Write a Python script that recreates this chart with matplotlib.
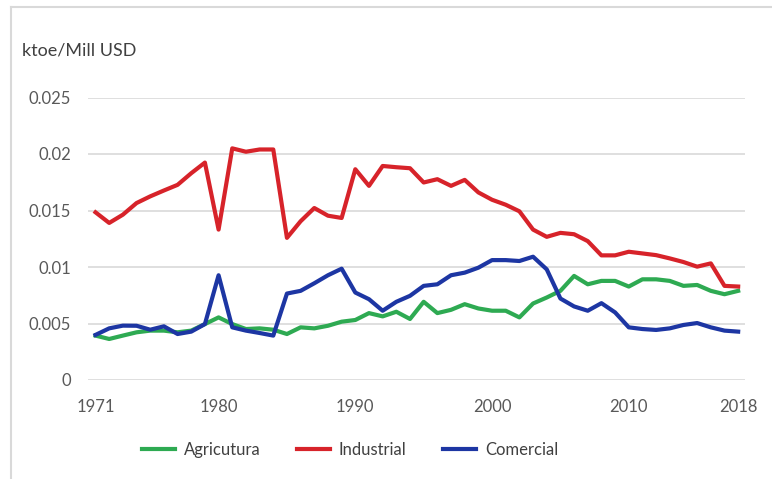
import matplotlib
matplotlib.use("Agg")
import matplotlib.pyplot as plt
from matplotlib.lines import Line2D
import numpy as np

# Intensidad energética por sector (ktoe / Mill USD), 1971-2018
years = list(range(1971, 2019))

agricultura = [0.00393, 0.00363, 0.00393, 0.00422, 0.00437, 0.00437, 0.00422, 0.00437, 0.00495, 0.00554,
               0.00495, 0.00451, 0.00457, 0.00445, 0.00407, 0.00466, 0.00457, 0.00480, 0.00516, 0.00531,
               0.00592, 0.00563, 0.00604, 0.00540, 0.00692, 0.00592, 0.00621, 0.00671, 0.00633, 0.00613,
               0.00613, 0.00554, 0.00677, 0.00730, 0.00789, 0.00921, 0.00847, 0.00877, 0.00877, 0.00827,
               0.00891, 0.00891, 0.00877, 0.00833, 0.00841, 0.00789, 0.00759, 0.00789]

industrial = [0.01484, 0.01390, 0.01463, 0.01566, 0.01625, 0.01677, 0.01727, 0.01830, 0.01924, 0.01331,
              0.02050, 0.02020, 0.02040, 0.02040, 0.01258, 0.01405, 0.01522, 0.01454, 0.01434, 0.01865,
              0.01718, 0.01894, 0.01883, 0.01874, 0.01748, 0.01777, 0.01718, 0.01771, 0.01660, 0.01595,
              0.01551, 0.01493, 0.01331, 0.01267, 0.01302, 0.01290, 0.01229, 0.01103, 0.01103, 0.01135,
              0.01120, 0.01105, 0.01076, 0.01044, 0.01003, 0.01032, 0.00833, 0.00827]

comercial = [0.00399, 0.00457, 0.00481, 0.00480, 0.00445, 0.00475, 0.00407, 0.00428, 0.00495, 0.00927,
             0.00466, 0.00437, 0.00416, 0.00393, 0.00765, 0.00789, 0.00856, 0.00927, 0.00985, 0.00774,
             0.00715, 0.00613, 0.00692, 0.00745, 0.00833, 0.00847, 0.00927, 0.00950, 0.00994, 0.01061,
             0.01061, 0.01053, 0.01091, 0.00979, 0.00721, 0.00651, 0.00613, 0.00680, 0.00598, 0.00466,
             0.00451, 0.00443, 0.00457, 0.00487, 0.00504, 0.00466, 0.00437, 0.00428]

xticks = [1971, 1980, 1990, 2000, 2010, 2018]
yticks = [0, 0.005, 0.01, 0.015, 0.02, 0.025]
ytick_labels = ["0", "0.005", "0.01", "0.015", "0.02", "0.025"]

plt.rcParams['font.family'] = ['Lato', 'DejaVu Sans']

fig = plt.figure(figsize=(7.72, 4.79), dpi=100)
ax = fig.add_axes([88/772, 99/479, 657/772, 282.5/479])

ax.plot(years, agricultura, color="#2eaa52", lw=3, label="Agricutura", solid_joinstyle="round")
ax.plot(years, industrial, color="#d7232a", lw=3, label="Industrial", solid_joinstyle="round")
ax.plot(years, comercial, color="#1d36a3", lw=3, label="Comercial", solid_joinstyle="round")

ax.set_xlim(1970.45, 2018.5)
ax.set_ylim(0, 0.025)
ax.set_xticks(xticks)
ax.set_xticklabels([str(t) for t in xticks])
ax.set_yticks(yticks)
ax.set_yticklabels(ytick_labels)
ax.tick_params(length=0, labelsize=12, colors="#595959")
ax.tick_params(axis="x", pad=14)
ax.tick_params(axis="y", pad=12)
ax.grid(axis="y", color="#d9d9d9", lw=1.2)
ax.set_axisbelow(True)
for s in ax.spines.values():
    s.set_visible(False)

fig.text(22/772, 1 - 50/479, "ktoe/Mill USD", fontsize=13, color="#404040", va="center", ha="left")

leg = fig.legend(loc="center", bbox_to_anchor=(350/772, 1 - 450/479), ncol=3, frameon=False,
                 fontsize=12, handlelength=2.0, handletextpad=0.5, columnspacing=2.2)
for t in leg.get_texts():
    t.set_color("#404040")

# borde del area del grafico
fig.add_artist(Line2D([11/772, 11/772], [0, 1 - 7/479], transform=fig.transFigure, color="#d9d9d9", lw=1.5))
fig.add_artist(Line2D([11/772, 1], [1 - 7/479, 1 - 7/479], transform=fig.transFigure, color="#d9d9d9", lw=1.5))

fig.savefig("out.png", dpi=100, facecolor="white")
